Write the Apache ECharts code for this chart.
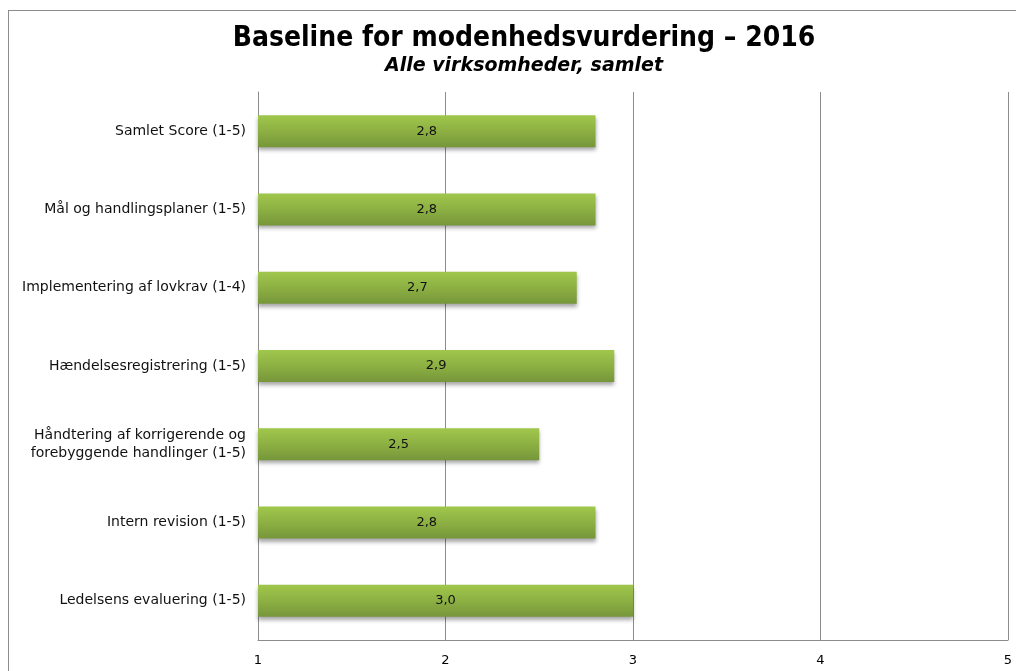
<!DOCTYPE html>
<html lang="da">
<head>
<meta charset="UTF-8">
<title>Baseline for modenhedsvurdering – 2016</title>
<script src="https://cdn.jsdelivr.net/npm/echarts@6/dist/echarts.min.js"></script>
<style>
    body {
        margin: 0;
        padding: 0;
        overflow: hidden;
        background: #fff;
    }
    #frame {
        position: absolute;
        left: 8px;
        top: 10px;
        width: 1100px;
        height: 700px;
        border-left: 1px solid #8c8c8c;
        border-top: 1px solid #8c8c8c;
    }
    #main {
        position: absolute;
        left: 0;
        top: 0;
        width: 1016px;
        height: 671px;
    }
</style>
</head>
<body>
<div id="frame"></div>
<div id="main"></div>
<script>
    // data, top to bottom as in the picture
    var categories = [
        'Samlet Score (1-5)',
        'Mål og handlingsplaner (1-5)',
        'Implementering af lovkrav (1-4)',
        'Hændelsesregistrering (1-5)',
        'Håndtering af korrigerende og\nforebyggende handlinger (1-5)',
        'Intern revision (1-5)',
        'Ledelsens evaluering (1-5)'
    ];
    var scores = [2.8, 2.8, 2.7, 2.9, 2.5, 2.8, 3.0];
    var axisMin = 1, axisMax = 5, axisStep = 1;

    var chart = echarts.init(document.getElementById('main'));

    var option = {
        animation: false,
        title: {
            text: 'Baseline for modenhedsvurdering – 2016',
            subtext: 'Alle virksomheder, samlet',
            left: 519,
            textAlign: 'center',
            top: 20,
            itemGap: 4,
            textStyle: {
                fontFamily: 'DejaVu Sans Condensed, DejaVu Sans',
                fontWeight: 'bold',
                fontSize: 28,
                color: '#000'
            },
            subtextStyle: {
                fontFamily: 'DejaVu Sans',
                fontWeight: 'bold',
                fontStyle: 'italic',
                fontSize: 19,
                color: '#000'
            }
        },
        grid: {
            left: 258,
            right: 8,
            top: 92,
            bottom: 31
        },
        xAxis: {
            type: 'value',
            min: axisMin,
            max: axisMax,
            interval: axisStep,
            axisLine: { show: true, lineStyle: { color: '#8c8c8c' } },
            axisTick: { show: false },
            axisLabel: {
                margin: 14,
                color: '#000',
                fontFamily: 'DejaVu Sans',
                fontSize: 13
            },
            splitLine: { show: true, lineStyle: { color: '#8c8c8c' } }
        },
        yAxis: {
            type: 'category',
            inverse: true,
            data: categories,
            axisLine: { show: true, lineStyle: { color: '#8c8c8c' } },
            axisTick: { show: false },
            axisLabel: {
                margin: 12,
                color: '#111',
                fontFamily: 'DejaVu Sans',
                fontSize: 14,
                lineHeight: 18,
                align: 'right'
            }
        },
        series: [{
            type: 'bar',
            data: scores,
            barWidth: 32,
            clip: true,
            itemStyle: {
                color: new echarts.graphic.LinearGradient(0, 0, 0, 1, [
                    { offset: 0, color: '#a0c74c' },
                    { offset: 0.5, color: '#8db043' },
                    { offset: 1, color: '#76963a' }
                ]),
                shadowColor: 'rgba(0,0,0,0.35)',
                shadowBlur: 4,
                shadowOffsetY: 3
            },
            label: {
                show: true,
                position: 'inside',
                color: '#111',
                fontFamily: 'DejaVu Sans',
                fontSize: 13,
                formatter: function(p) {
                    return p.value.toFixed(1).replace('.', ',');
                }
            }
        }]
    };
    chart.setOption(option);
</script>
</body>
</html>
